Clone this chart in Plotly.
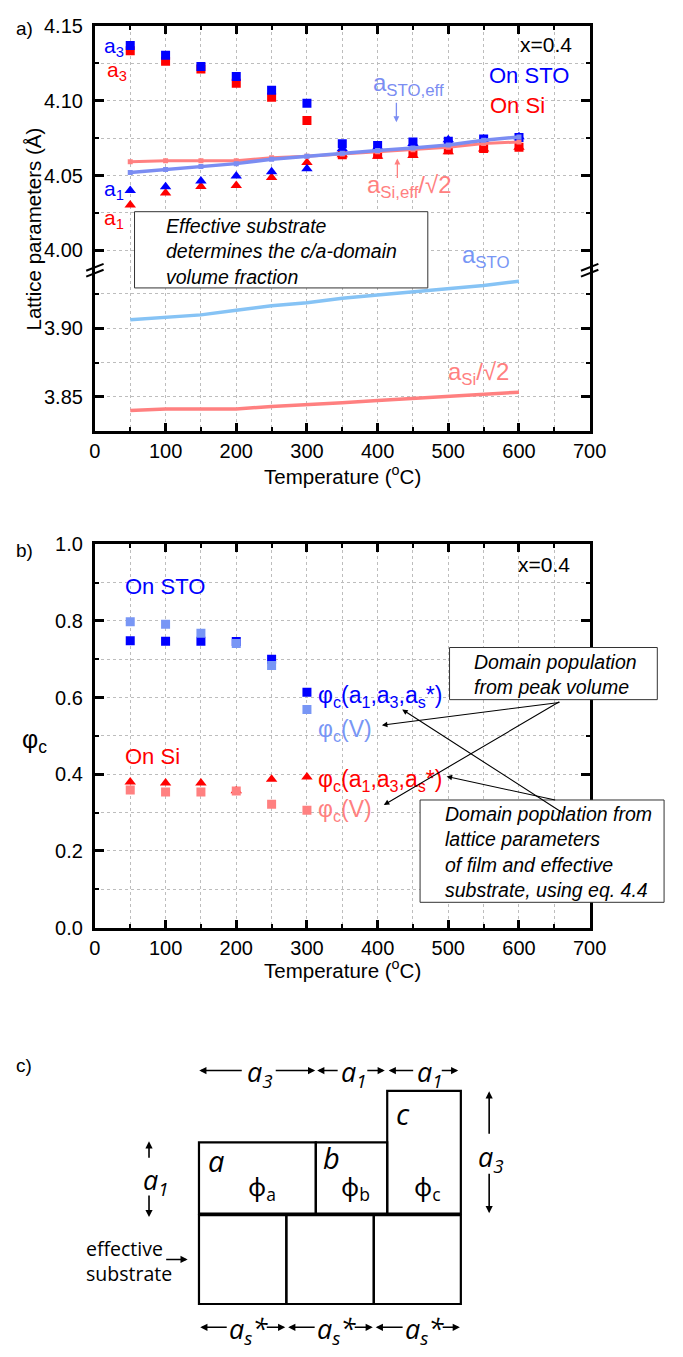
import plotly.graph_objects as go

W, H = 683, 1357
FONT = "Liberation Sans, Arial, sans-serif"
CFONT = "Open Sans, Noto Sans, sans-serif"

# ---------------- data (panel a) ----------------
temps = [50, 100, 150, 200, 250, 300, 350, 400, 450, 500, 550, 600]
a3_sto = [4.1370, 4.1305, 4.1230, 4.1163, 4.1070, 4.0983, 4.0713, 4.0702, 4.0724, 4.0730, 4.0745, 4.0755]
a3_si = [4.1335, 4.1265, 4.1213, 4.1117, 4.1024, 4.0869, 4.0640, 4.0643, 4.0650, 4.0672, 4.0682, 4.0690]
a1_sto = [4.0400, 4.0425, 4.0464, 4.0497, 4.0525, 4.0545, 4.0680, 4.0690, 4.0715, 4.0740, 4.0745, 4.0760]
a1_si = [4.0303, 4.0384, 4.0427, 4.0434, 4.0488, 4.0588, 4.0640, 4.0630, 4.0635, 4.0660, 4.0678, 4.0689]
a_sto_eff = [4.0520, 4.0540, 4.0560, 4.0580, 4.0610, 4.0630, 4.0650, 4.0667, 4.0684, 4.0704, 4.0736, 4.0758]
a_si_eff = [4.0593, 4.0600, 4.0600, 4.0600, 4.0620, 4.0630, 4.0645, 4.0660, 4.0672, 4.0689, 4.0715, 4.0725]
a_sto = [3.9061, 3.9078, 3.9096, 3.9130, 3.9163, 3.9184, 3.9216, 3.9240, 3.9263, 3.9292, 3.9310, 3.9340]
a_si = [3.8401, 3.8412, 3.8413, 3.8413, 3.8431, 3.8443, 3.8457, 3.8474, 3.8490, 3.8504, 3.8521, 3.8535]

# ---------------- data (panel b) ----------------
temps_b = [50, 100, 150, 200, 250, 300]
phi_sto_a = [0.748, 0.747, 0.747, 0.746, 0.700, 0.614]
phi_sto_v = [0.798, 0.7915, 0.768, 0.741, 0.684, 0.569]
phi_si_a = [0.380, 0.377, 0.377, 0.357, 0.387, 0.393]
phi_si_v = [0.359, 0.354, 0.354, 0.356, 0.3215, 0.306]

BLUE = "#0000FF"
RED = "#FF0000"
LBLUE = "#7B8DF2"
VBLUE = "#7896F5"
SKY = "#86C3F5"
SALMON = "#FF8080"
GRID = "#BDBDBD"
TICKSIZE = 20
SQ = 9
TRI = 10


def X(px):
    return px / W


def Y(py):
    return 1 - py / H


fig = go.Figure()

# panel a upper (x2, y)
fig.add_trace(go.Scatter(x=temps, y=a3_si, mode="markers", xaxis="x2", yaxis="y",
                         marker=dict(symbol="square", size=SQ, color=RED), showlegend=False))
fig.add_trace(go.Scatter(x=temps, y=a3_sto, mode="markers", xaxis="x2", yaxis="y",
                         marker=dict(symbol="square", size=SQ, color=BLUE), showlegend=False))
fig.add_trace(go.Scatter(x=temps, y=a1_si, mode="markers", xaxis="x2", yaxis="y",
                         marker=dict(symbol="triangle-up", size=TRI, color=RED), showlegend=False))
fig.add_trace(go.Scatter(x=temps, y=a1_sto, mode="markers", xaxis="x2", yaxis="y",
                         marker=dict(symbol="triangle-up", size=TRI, color=BLUE), showlegend=False))
fig.add_trace(go.Scatter(x=temps, y=a_si_eff, mode="lines+markers", xaxis="x2", yaxis="y",
                         line=dict(color=SALMON, width=3),
                         marker=dict(symbol="square", size=5, color=SALMON), showlegend=False))
fig.add_trace(go.Scatter(x=temps, y=a_sto_eff, mode="lines+markers", xaxis="x2", yaxis="y",
                         line=dict(color=LBLUE, width=3.5),
                         marker=dict(symbol="square", size=5, color=LBLUE), showlegend=False))

# panel a lower (x, y2)
fig.add_trace(go.Scatter(x=temps, y=a_sto, mode="lines", xaxis="x", yaxis="y2",
                         line=dict(color=SKY, width=3.5), showlegend=False))
fig.add_trace(go.Scatter(x=temps, y=a_si, mode="lines", xaxis="x", yaxis="y2",
                         line=dict(color=SALMON, width=3.5), showlegend=False))

# panel b (x3, y3)
fig.add_trace(go.Scatter(x=temps_b, y=phi_sto_a, mode="markers", xaxis="x3", yaxis="y3",
                         marker=dict(symbol="square", size=SQ, color=BLUE), showlegend=False))
fig.add_trace(go.Scatter(x=temps_b, y=phi_sto_v, mode="markers", xaxis="x3", yaxis="y3",
                         marker=dict(symbol="square", size=SQ, color=VBLUE), showlegend=False))
fig.add_trace(go.Scatter(x=temps_b, y=phi_si_a, mode="markers", xaxis="x3", yaxis="y3",
                         marker=dict(symbol="triangle-up", size=TRI, color=RED), showlegend=False))
fig.add_trace(go.Scatter(x=temps_b, y=phi_si_v, mode="markers", xaxis="x3", yaxis="y3",
                         marker=dict(symbol="square", size=SQ, color=SALMON), showlegend=False))

XDOM = [X(92), X(604)]


def xax(anchor, side="bottom", labels=True):
    return dict(domain=XDOM, anchor=anchor, side=side, range=[0, 700], tick0=0, dtick=100,
                ticks="inside", ticklen=8, tickwidth=2.5, tickcolor="black",
                showline=True, linewidth=3, linecolor="black",
                showgrid=True, gridcolor=GRID, griddash="dot", gridwidth=1,
                minor=dict(dtick=50, ticks="inside", ticklen=4, tickwidth=2, tickcolor="black",
                           showgrid=True, gridcolor=GRID, griddash="dot", gridwidth=1),
                showticklabels=labels, tickfont=dict(family=FONT, size=TICKSIZE, color="black"),
                ticklabelstandoff=0, zeroline=False)


def yax(anchor, dom, rng, tick0, dtick, mdtick, fmt, mirror="ticks"):
    return dict(domain=dom, anchor=anchor, range=rng, tick0=tick0, dtick=dtick,
                tickformat=fmt, ticks="inside", ticklen=9, tickwidth=2.5, tickcolor="black",
                showline=True, linewidth=3, linecolor="black", mirror=mirror,
                showgrid=True, gridcolor=GRID, griddash="dot", gridwidth=1,
                minor=dict(dtick=mdtick, ticks="inside", ticklen=4, tickwidth=2, tickcolor="black",
                           showgrid=True, gridcolor=GRID, griddash="dot", gridwidth=1),
                tickfont=dict(family=FONT, size=TICKSIZE, color="black"), ticklabelstandoff=5,
                zeroline=False)


BREAK = 262
layout = dict(
    width=W, height=H, margin=dict(l=0, r=0, t=0, b=0),
    paper_bgcolor="white", plot_bgcolor="white", showlegend=False,
    font=dict(family=FONT, color="black"),
    xaxis=xax("y2"),
    xaxis2=xax("y", side="top", labels=False),
    xaxis3=dict(xax("y3"), mirror="ticks"),
    yaxis=yax("x2", [Y(BREAK), Y(15)], [3.9877, 4.1502], 4.0, 0.05, 0.025, ".2f"),
    yaxis2=yax("x", [Y(427.3), Y(BREAK)], [3.825, 3.9431], 3.85, 0.05, 0.025, ".2f"),
    yaxis3=yax("x3", [Y(931.7), Y(542)], [0, 1.0001], 0, 0.2, 0.1, ".1f"),
)
fig.update_layout(**layout)

shapes = []
ann = []


def text(t, x, y, size, color="black", xa="left", ya="middle", italic=False, family=FONT,
         angle=0, align="left"):
    ann.append(dict(text=t, x=X(x), y=Y(y), xref="paper", yref="paper", showarrow=False,
                    xanchor=xa, yanchor=ya, textangle=angle, align=align,
                    font=dict(family=family, size=size, color=color,
                              style="italic" if italic else "normal")))


def arrow(x0, y0, x1, y1, color="black", w=1.2, head=2, size=1.0):
    ann.append(dict(text="", x=X(x1), y=Y(y1), xref="paper", yref="paper",
                    ax=x0 - x1, ay=y0 - y1, axref="pixel", ayref="pixel",
                    showarrow=True, arrowhead=head, arrowsize=size, arrowwidth=w,
                    arrowcolor=color, standoff=0, startstandoff=0))


def rect(x0, y0, x1, y1, w=1, color="black", fill="white"):
    shapes.append(dict(type="rect", xref="paper", yref="paper", x0=X(x0), x1=X(x1),
                       y0=Y(y1), y1=Y(y0), line=dict(color=color, width=w),
                       fillcolor=fill, layer="above"))


def line(x0, y0, x1, y1, w=2, color="black"):
    shapes.append(dict(type="line", xref="paper", yref="paper", x0=X(x0), x1=X(x1),
                       y0=Y(y0), y1=Y(y1), line=dict(color=color, width=w), layer="above"))


# ---------- panel a annotations ----------
text("a)", 8, 18, 19)
text("a<sub>3</sub>", 99, 37, 21, BLUE)
text("a<sub>3</sub>", 102, 61, 21, RED)
text("a<sub>1</sub>", 99, 182, 21, BLUE)
text("a<sub>1</sub>", 99, 211, 21, RED)
text("x=0.4", 588, 34, 21, xa="right")
text("On STO", 585, 66, 22, BLUE, xa="right")
text("On Si", 560, 96, 22, RED, xa="right")
text("a<sub>STO,eff</sub>", 378, 75, 24, LBLUE)
arrow(404, 92, 404, 113, LBLUE, w=1.3, head=2, size=0.9)
text("a<sub>Si,eff</sub>/√2", 371, 178, 24, SALMON)
arrow(405, 171, 405, 150, SALMON, w=1.3, head=2, size=0.9)
rect(133, 204, 436.5, 281.5, w=1, color="#333333")
text("Effective substrate<br>determines the c/a-domain<br>volume fraction", 164, 244, 19.5,
     italic=True)
text("a<sub>STO</sub>", 470, 250, 24, VBLUE)
text("a<sub>Si</sub>/√2", 455, 368, 24, SALMON)
text("Temperature (<sup>o</sup>C)", 348, 472, 20.5, xa="center")
text("Lattice parameters (Å)", 28, 222, 20.5, xa="center", angle=-90)

# break marks
for bx in (92, 604):
    line(bx - 9, 264, bx + 9, 257, w=2)
    line(bx - 9, 270, bx + 9, 263, w=2)

# ---------- panel b annotations ----------
text("b)", 8, 548, 19)
text("x=0.4", 586, 563, 21, xa="right")
text("On STO", 121, 585, 22, BLUE)
text("On Si", 121, 758, 22, RED)
text("φ<sub>c</sub>(a<sub>1</sub>,a<sub>3</sub>,a<sub>s</sub>*)", 321, 697, 23, BLUE)
text("φ<sub>c</sub>(V)", 321, 731, 23, VBLUE)
text("φ<sub>c</sub>(a<sub>1</sub>,a<sub>3</sub>,a<sub>s</sub>*)", 321, 782, 23, RED)
text("φ<sub>c</sub>(V)", 321, 813, 23, SALMON)
text("φ<sub>c</sub>", 30, 742, 25, xa="center")
text("Temperature (<sup>o</sup>C)", 348, 974, 20.5, xa="center")
rect(459, 647, 674, 700, w=1, color="#333333")
text("Domain population<br>from peak volume", 482, 674, 19.5, italic=True)
rect(428.5, 802, 681, 906, w=1, color="#333333")
text("Domain population from<br>lattice parameters<br>of film and effective<br>"
     "substrate, using eq. 4.4", 452, 855, 19.5, italic=True)
arrow(568, 703, 389, 726, w=1.1, size=1.0)
arrow(568, 703, 391, 807, w=1.1, size=1.0)
arrow(573, 815, 410, 710, w=1.1, size=1.0)
arrow(566, 802, 456, 778, w=1.1, size=1.0)

# ---------- panel c (schematic) ----------
text("c)", 8, 1072, 19)
LW = 2.2
rect(394.5, 1097.7, 470.7, 1222.3, w=LW, fill="rgba(0,0,0,0)")
rect(199.7, 1150, 320.6, 1222.3, w=LW, fill="rgba(0,0,0,0)")
rect(320.6, 1150, 394.5, 1222.3, w=LW, fill="rgba(0,0,0,0)")
rect(199.7, 1224, 290.1, 1314.3, w=LW, fill="rgba(0,0,0,0)")
rect(290.1, 1224, 380.6, 1314.3, w=LW, fill="rgba(0,0,0,0)")
rect(380.6, 1224, 470.7, 1314.3, w=LW, fill="rgba(0,0,0,0)")

AW = 1.6
# top dimension arrows
text("a<sub>3</sub>", 247, 1080, 27, italic=True, family=CFONT)
arrow(244, 1077, 200, 1077, w=AW, size=0.9)
arrow(279, 1077, 320, 1077, w=AW, size=0.9)
text("a<sub>1</sub>", 345, 1080, 27, italic=True, family=CFONT)
arrow(344, 1077, 322, 1077, w=AW, size=0.9)
arrow(373, 1077, 392, 1077, w=AW, size=0.9)
text("a<sub>1</sub>", 423, 1080, 27, italic=True, family=CFONT)
arrow(422, 1077, 396, 1077, w=AW, size=0.9)
arrow(450, 1077, 468, 1077, w=AW, size=0.9)

# vertical arrows
text("a<sub>3</sub>", 486, 1166, 27, italic=True, family=CFONT)
arrow(500, 1142, 500, 1098, w=AW, size=0.9)
arrow(500, 1181, 500, 1222, w=AW, size=0.9)
text("a<sub>1</sub>", 140, 1190, 27, italic=True, family=CFONT)
arrow(148, 1167, 148, 1149, w=AW, size=0.9)
arrow(148, 1203, 148, 1226, w=AW, size=0.9)

# box labels
text("a", 207, 1168, 29, italic=True, family=CFONT)
text("b", 326, 1165, 29, italic=True, family=CFONT)
text("c", 402, 1121, 29, italic=True, family=CFONT)
text("ϕ<sub>a</sub>", 248, 1196, 25, family=CFONT)
text("ϕ<sub>b</sub>", 345, 1196, 25, family=CFONT)
text("ϕ<sub>c</sub>", 420, 1196, 25, family=CFONT)

# effective substrate
text("effective<br>substrate", 81, 1271, 19.5, family=CFONT)
arrow(165, 1269, 188, 1269, w=AW, size=0.9)

# bottom arrows
for cx0, cx1, lx in ((200, 290, 229), (291, 380.6, 320), (381.6, 470.7, 411)):
    text("a<sub>s</sub>*", lx, 1341, 27, italic=True, family=CFONT)
    arrow(lx, 1338, cx0 + 1, 1338, w=AW, size=0.9)
    arrow(lx + 40, 1338, cx1 - 1, 1338, w=AW, size=0.9)

fig.update_layout(shapes=shapes, annotations=ann)
fig.write_html("out.html")
